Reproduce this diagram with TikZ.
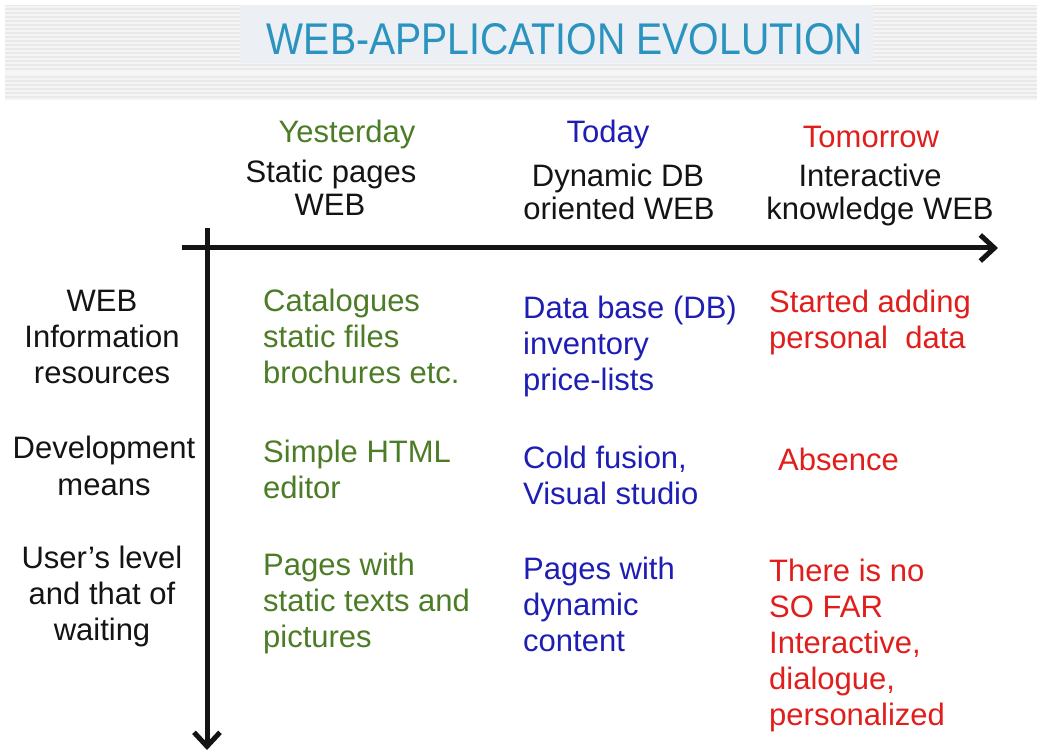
\documentclass[tikz,border=0pt]{standalone}
\usepackage{fontspec}
\setmainfont{Liberation Sans}
\usetikzlibrary{arrows.meta}
\definecolor{titleblue}{RGB}{42,147,191}
\definecolor{ygreen}{RGB}{76,124,38}
\definecolor{tblue}{RGB}{30,30,180}
\definecolor{tred}{RGB}{224,30,28}
\definecolor{band}{RGB}{233,233,233}
\definecolor{bandline}{RGB}{244,244,244}
\definecolor{titlebox}{RGB}{236,239,243}
\definecolor{ink}{RGB}{20,20,20}
\begin{document}
\begin{tikzpicture}[x=1pt,y=-1pt,
  txt/.style={inner sep=0pt, font=\fontsize{31}{36}\selectfont},
  body/.style={txt, align=left, anchor=base west},
  head/.style={txt, anchor=base},
  rowlab/.style={txt, align=center, anchor=base, text=ink},
  axis/.style={line width=5pt, draw=ink, -{Straight Barb[length=14pt,width=26pt,line width=5pt]}}
]
\useasboundingbox[fill=white] (0,0) rectangle (1037,751);
% banner
\fill[band] (5,5) rectangle (1037,100);
\foreach \y in {7,11,...,99} \draw[bandline, line width=1.3pt] (5,\y) -- (1037,\y);
\fill[white!60!band] (5,71) rectangle (1037,74);
\fill[titlebox] (240,5) rectangle (873,63);
\node[inner sep=0pt, anchor=base, text=titleblue, font=\fontsize{39}{44}\selectfont] (title) at (565,55) {\resizebox{596pt}{31pt}{WEB-APPLICATION EVOLUTION}};
% column headers
\node[head, text=ygreen] (yest) at (347,143) {Yesterday};
\node[head, text=ink] (yest2) at (331,183) {Static pages};
\node[head, text=ink] (yest3) at (330,216) {WEB};
\node[head, text=tblue] (today) at (608,143) {Today};
\node[head, text=ink] (today2) at (618,187) {Dynamic DB};
\node[head, text=ink] (today3) at (619,220) {oriented WEB};
\node[head, text=tred] (tom) at (871,148) {Tomorrow};
\node[head, text=ink] (tom2) at (870,187) {Interactive};
\node[head, text=ink] (tom3) at (880,220) {knowledge WEB};
% axes
\coordinate (hstart) at (182,248);
\coordinate (hend) at (998,248);
\coordinate (vstart) at (207,228);
\coordinate (vend) at (207,750);
\draw[axis] (hstart) -- (hend);
\draw[axis] (vstart) -- (vend);
% row labels (anchor = baseline of the last line)
\node[rowlab] (r1) at (102,384) {WEB\\Information\\resources};
\node[rowlab] (r2) at (104,495) {Development\\means};
\node[rowlab] (r3) at (102,640) {User's level\\and that of\\waiting};
% yesterday column
\node[body, text=ygreen] (g1) at (263,384) {Catalogues\\static files\\brochures etc.};
\node[body, text=ygreen] (g2) at (263,498) {Simple HTML\\editor};
\node[body, text=ygreen] (g3) at (263,647) {Pages with\\static texts and\\pictures};
% today column
\node[body, text=tblue] (b1) at (523,391) {Data base (DB)\\inventory\\price-lists};
\node[body, text=tblue] (b2) at (523,504) {Cold fusion,\\Visual studio};
\node[body, text=tblue] (b3) at (523,651) {Pages with\\dynamic\\content};
% tomorrow column
\node[body, text=tred] (t1) at (769,349) {Started adding\\personal\ \ data};
\node[body, text=tred] (t2) at (778,471) {Absence};
\node[body, text=tred] (t3) at (769,725) {There is no\\SO FAR\\Interactive,\\dialogue,\\personalized};
\end{tikzpicture}
\end{document}
